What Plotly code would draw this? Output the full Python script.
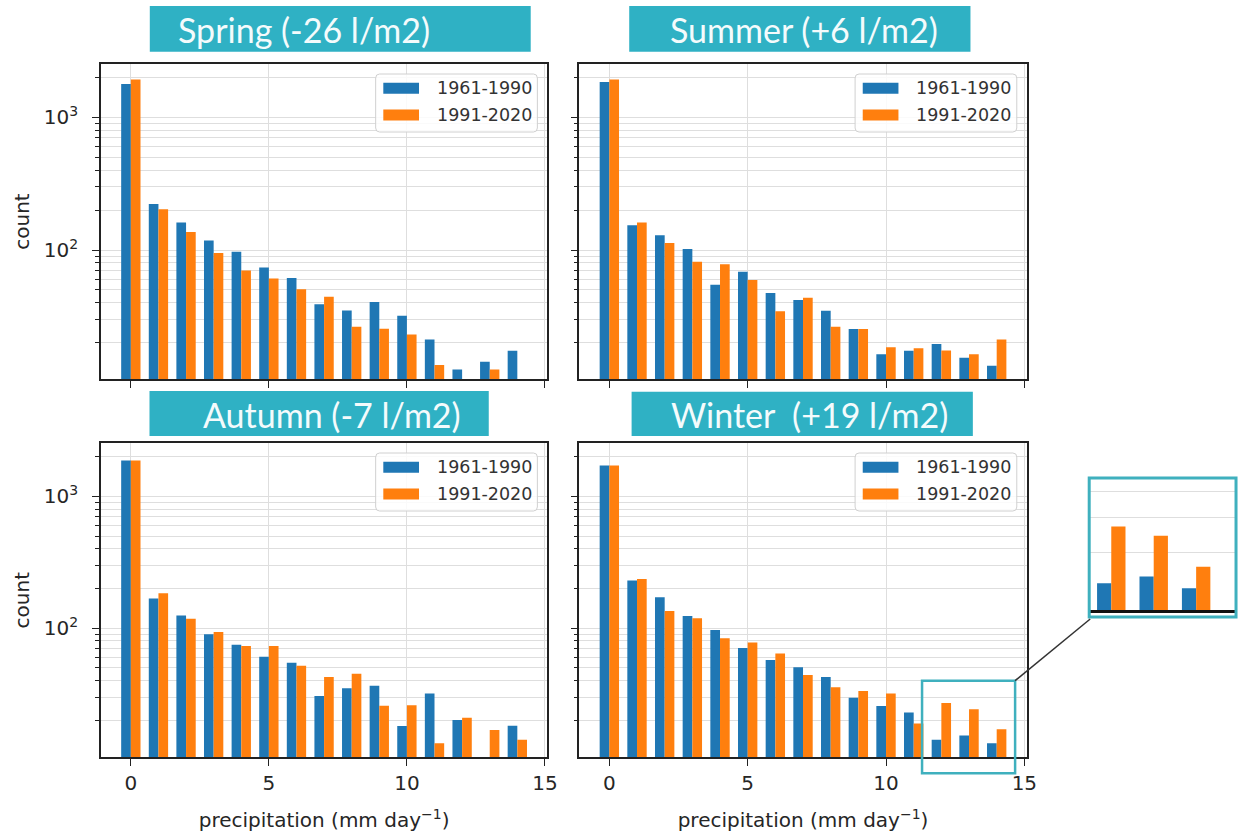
import plotly.graph_objects as go

# ---------------- data ----------------
bins = list(range(15))
series_names = ["1961-1990", "1991-2020"]
titles = ["Spring (-26 l/m2)", "Summer (+6 l/m2)", "Autumn (-7 l/m2)", "Winter  (+19 l/m2)"]

spring_6190 = [1780, 222, 161, 118, 97, 74, 61.5, 39, 35, 40.5, 32, 21.2, 12.6, 14.4, 17.4]
spring_9120 = [1930, 203, 137, 95, 70, 61, 50.6, 44.5, 26.4, 25.5, 23.1, 13.6, None, 12.6, None]
summer_6190 = [1850, 154, 129, 102, 54.8, 68.7, 47.4, 42, 34.9, 25.4, 16.4, 17.4, 19.6, 15.4, 13.4]
summer_9120 = [1930, 161, 113, 81.6, 78, 59.4, 34.5, 43.7, 26.4, 25.4, 18.5, 18.2, 17.5, 16.4, 21.2]
autumn_6190 = [1875, 168, 125, 90, 75, 60.6, 54.6, 30.6, 35, 36.6, 18.1, 32, 20.1, None, 18.2]
autumn_9120 = [1875, 184, 118, 93.7, 73.4, 73.4, 51.8, 42.7, 45.2, 25.8, 26, 13.4, 20.9, 16.9, 14.2]
winter_6190 = [1717, 230, 172, 124, 97, 70.8, 57.4, 50.6, 42.7, 29.7, 25.7, 22.9, 14.2, 15.3, 13.4]
winter_9120 = [1717, 236, 135, 119, 84, 77.8, 64.2, 44.2, 35.7, 33.4, 32, 18.9, 27, 24.3, 17.1]

inset_bins = [12, 13, 14]

y_major = [100, 1000]
y_major_text = ["10<sup>2</sup>", "10<sup>3</sup>"]
y_minor = [20, 30, 40, 50, 60, 70, 80, 90, 200, 300, 400, 500, 600, 700, 800, 900, 2000]
x_ticks = [0, 5, 10, 15]

# ---------------- styling / geometry ----------------
W, H = 1249, 839
BLUE, ORANGE = "#1f77b4", "#ff7f0e"
TEAL = "#2fb1c4"
BOX_TEAL = "#3fb0be"
GRID = "#dedede"
FONT = "DejaVu Sans"
TXT = "#262626"


def px(x):
    return x / W


def py(y):
    return 1 - y / H


panels = [  # (left, right, top, bottom) in pixels
    (101.7, 551.7, 64, 379),
    (584, 1035, 64, 379),
    (101.7, 551.7, 443, 757.3),
    (584, 1035, 443, 757.3),
]
yranges = [[1.028, 3.402], [1.028, 3.402], [1.020, 3.406], [1.020, 3.406]]
xrange_ = [-1.085, 15.085]
data_pairs = [(spring_6190, spring_9120), (summer_6190, summer_9120),
              (autumn_6190, autumn_9120), (winter_6190, winter_9120)]

fig = go.Figure()
layout = {}
BW = 0.35

for i, ((l, r, t, b), (d1, d2)) in enumerate(zip(panels, data_pairs)):
    n = i + 1
    xa = "x" if n == 1 else f"x{n}"
    ya = "y" if n == 1 else f"y{n}"
    fig.add_trace(go.Bar(x=bins, y=d1, name=series_names[0], marker_color=BLUE,
                         marker_line_width=0, width=BW, offset=-BW,
                         xaxis=xa, yaxis=ya, showlegend=False))
    fig.add_trace(go.Bar(x=bins, y=d2, name=series_names[1], marker_color=ORANGE,
                         marker_line_width=0, width=BW, offset=0,
                         xaxis=xa, yaxis=ya, showlegend=False))
    bottom_row = i >= 2
    left_col = i % 2 == 0
    xkey = "xaxis" if n == 1 else f"xaxis{n}"
    ykey = "yaxis" if n == 1 else f"yaxis{n}"
    xax = dict(
        domain=[px(l), px(r)], anchor=ya, range=xrange_,
        tickmode="array", tickvals=x_ticks, showticklabels=bottom_row,
        ticks="outside", ticklen=7, tickwidth=1.3, tickcolor="#222",
        tickfont=dict(family=FONT, size=20, color=TXT),
        showgrid=True, gridcolor=GRID, gridwidth=1, zeroline=False,
        showline=True, linecolor="#222", linewidth=1.5, mirror=True,
    )
    if bottom_row:
        xax["title"] = dict(text="precipitation (mm day<sup>−1</sup>)",
                            font=dict(family=FONT, size=20, color=TXT), standoff=19)
    yax = dict(
        domain=[py(b), py(t)], anchor=xa, type="log", range=yranges[i],
        tickmode="array", tickvals=y_major, ticktext=y_major_text,
        showticklabels=left_col, ticks="outside", ticklen=7, tickwidth=1.3,
        tickcolor="#222", tickfont=dict(family=FONT, size=20, color=TXT),
        ticklabelstandoff=10,
        showgrid=True, gridcolor=GRID, gridwidth=1, zeroline=False,
        showline=True, linecolor="#222", linewidth=1.5, mirror=True,
        minor=dict(tickmode="array", tickvals=y_minor, ticks="outside", ticklen=4,
                   tickwidth=1, tickcolor="#222", showgrid=True, gridcolor=GRID,
                   gridwidth=1),
    )
    if left_col:
        yax["title"] = dict(text="count", font=dict(family=FONT, size=20, color=TXT),
                            standoff=9)
    layout[xkey] = xax
    layout[ykey] = yax

# inset (magnified winter bins 12-14)
inset_l, inset_r, inset_t, inset_b = 1098, 1246, 478, 610
fig.add_trace(go.Bar(x=inset_bins, y=winter_6190[12:15], marker_color=BLUE, width=0.335,
                     offset=-0.335, marker_line_width=0, xaxis="x5", yaxis="y5",
                     showlegend=False))
fig.add_trace(go.Bar(x=inset_bins, y=winter_9120[12:15], marker_color=ORANGE, width=0.335,
                     offset=0, marker_line_width=0, xaxis="x5", yaxis="y5",
                     showlegend=False))
layout["xaxis5"] = dict(domain=[px(inset_l), px(inset_r)], anchor="y5", range=[11.48, 14.94],
                        showticklabels=False, ticks="", showgrid=False, zeroline=False,
                        showline=True, linecolor="#111", linewidth=2.5)
layout["yaxis5"] = dict(domain=[py(inset_b), py(inset_t)], anchor="x5", type="log",
                        range=[1.02, 1.67], tickmode="array", tickvals=[20, 30, 40],
                        showticklabels=False, ticks="", showgrid=True, gridcolor=GRID,
                        zeroline=False, showline=False)

shapes = []
annotations = []

# title boxes
title_boxes = [  # (left, right, top, bottom, text center x)
    (151, 535, 6, 51.7, 306),
    (634.3, 978.3, 6, 51.7, 810),
    (150.7, 492.7, 391, 436, 335),
    (636.7, 980.7, 391.7, 436, 816.5),
]
for (l, r, t, b, cx), txt in zip(title_boxes, titles):
    shapes.append(dict(type="rect", xref="paper", yref="paper", x0=px(l), x1=px(r),
                       y0=py(b), y1=py(t), fillcolor=TEAL, line=dict(width=0), layer="above"))
    annotations.append(dict(xref="paper", yref="paper", x=px(cx), y=py((t + b) / 2 + 1),
                            text=txt, showarrow=False, xanchor="center", yanchor="middle",
                            font=dict(family="Lato", size=34, color="#f4fbfc")))


# legends (drawn per panel)
def rounded_rect(l, t, r, b, rad=4):
    x0, x1, y0, y1 = px(l), px(r), py(b), py(t)
    rx, ry = rad / W, rad / H
    return (f"M{x0+rx},{y1} L{x1-rx},{y1} Q{x1},{y1} {x1},{y1-ry} "
            f"L{x1},{y0+ry} Q{x1},{y0} {x1-rx},{y0} L{x0+rx},{y0} "
            f"Q{x0},{y0} {x0},{y0+ry} L{x0},{y1-ry} Q{x0},{y1} {x0+rx},{y1} Z")


for (l, r, t, b) in panels:
    bl = r - 10 - 163
    bt = t + 10
    shapes.append(dict(type="path", xref="paper", yref="paper",
                       path=rounded_rect(bl, bt, bl + 163, bt + 58),
                       fillcolor="rgba(255,255,255,0.85)", line=dict(color="#d0d0d0", width=1),
                       layer="above"))
    for k, (col, name) in enumerate(zip([BLUE, ORANGE], series_names)):
        cy = bt + 14.3 + k * 26.7
        shapes.append(dict(type="rect", xref="paper", yref="paper",
                           x0=px(bl + 7.7), x1=px(bl + 43.7), y0=py(cy + 5.5), y1=py(cy - 5.5),
                           fillcolor=col, line=dict(width=0), layer="above"))
        annotations.append(dict(xref="paper", yref="paper", x=px(bl + 59.5), y=py(cy),
                                text=name, showarrow=False, xanchor="left", yanchor="middle",
                                font=dict(family=FONT, size=17.5, color="#333")))

# highlight box in winter panel, inset border and connector line
shapes.append(dict(type="rect", xref="paper", yref="paper", x0=px(929.5), x1=px(1023.3),
                   y0=py(773.3), y1=py(680.7), line=dict(color=BOX_TEAL, width=2.5),
                   fillcolor="rgba(0,0,0,0)", layer="above"))
shapes.append(dict(type="rect", xref="paper", yref="paper", x0=px(1098), x1=px(1246),
                   y0=py(617), y1=py(478), line=dict(color=BOX_TEAL, width=3),
                   fillcolor="rgba(0,0,0,0)", layer="above"))
shapes.append(dict(type="line", xref="paper", yref="paper", x0=px(1023.3), y0=py(680.7),
                   x1=px(1099), y1=py(619), line=dict(color="#333", width=1.5), layer="above"))

layout.update(dict(
    width=W, height=H, margin=dict(l=0, r=0, t=0, b=0),
    paper_bgcolor="white", plot_bgcolor="white",
    barmode="overlay", showlegend=False,
    shapes=shapes, annotations=annotations,
    font=dict(family=FONT, color=TXT),
))
fig.update_layout(**layout)
fig.write_html("out.html", config={"displayModeBar": False},
               post_script="document.body.style.margin='0';document.body.style.overflow='hidden';")
